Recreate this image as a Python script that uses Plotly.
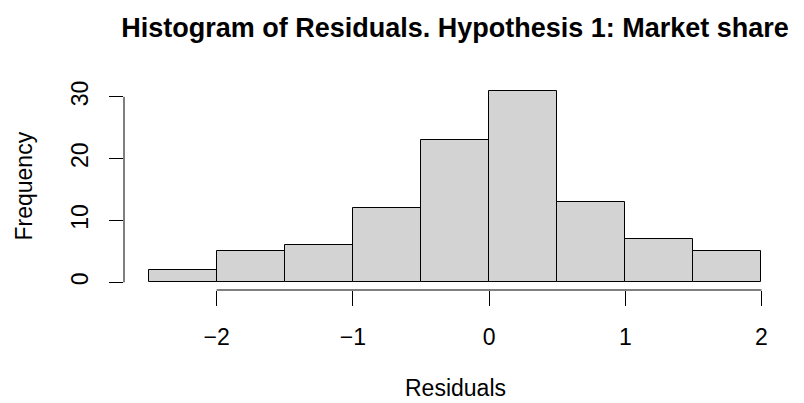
import plotly.graph_objects as go

# Data
bin_left = [-2.5, -2.0, -1.5, -1.0, -0.5, 0.0, 0.5, 1.0, 1.5]
bin_width = 0.5
counts = [2, 5, 6, 12, 23, 31, 13, 7, 5]
x_ticks = [-2, -1, 0, 1, 2]
y_ticks = [0, 10, 20, 30]

title_text = "Histogram of Residuals. Hypothesis 1: Market share"
x_label = "Residuals"
y_label = "Frequency"

FONT = "Liberation Sans, Arial, Helvetica, sans-serif"
BASE = 23
TITLE = 27

centers = [b + bin_width / 2 for b in bin_left]

fig = go.Figure()
fig.add_trace(go.Bar(
    x=centers, y=counts, width=[bin_width] * len(counts),
    marker=dict(color="#D3D3D3", line=dict(color="black", width=1)),
    showlegend=False, hoverinfo="x+y",
))

# R-style axes spanning only the tick range
x_rng = (min(bin_left), max(bin_left) + bin_width)
x_pad = 0.04 * (x_rng[1] - x_rng[0])
y_top = max(counts)
y_pad = 0.04 * y_top

fig.add_shape(type="line", xref="x", yref="paper", x0=min(x_ticks), x1=max(x_ticks),
              y0=0, y1=0, line=dict(color="black", width=1))
fig.add_shape(type="line", xref="paper", yref="y", x0=0, x1=0,
              y0=min(y_ticks), y1=max(y_ticks), line=dict(color="black", width=1))

fig.update_layout(
    width=804, height=403,
    margin=dict(l=124, r=18, t=83, b=113),
    plot_bgcolor="white", paper_bgcolor="white",
    font=dict(family=FONT, size=BASE, color="black"),
    bargap=0,
    title=dict(text="<b>" + title_text + "</b>", x=0.5, xref="paper",
               y=1 - 28 / 403, yref="container", yanchor="middle", xanchor="center",
               font=dict(size=TITLE, family=FONT, color="black")),
    xaxis=dict(range=[x_rng[0] - x_pad, x_rng[1] + x_pad], tickvals=x_ticks,
               ticks="outside", ticklen=15, tickwidth=1, tickcolor="black",
               showline=False, showgrid=False, zeroline=False,
               tickfont=dict(size=BASE, family=FONT, color="black"), ticklabelstandoff=11),
    yaxis=dict(range=[-y_pad, y_top + y_pad], tickvals=y_ticks,
               ticks="outside", ticklen=14, tickwidth=1, tickcolor="black",
               showline=False, showgrid=False, zeroline=False, tickangle=-90,
               tickfont=dict(size=BASE, family=FONT, color="black"), ticklabelstandoff=12),
    annotations=[
        dict(text=x_label, xref="paper", yref="paper", x=0.5, y=0, yshift=-112,
             showarrow=False, xanchor="center", yanchor="bottom", borderpad=0,
             font=dict(size=BASE, family=FONT, color="black")),
        dict(text=y_label, xref="paper", yref="paper", x=0, y=0.5, xshift=-101,
             showarrow=False, xanchor="center", yanchor="middle", textangle=-90,
             font=dict(size=BASE, family=FONT, color="black")),
    ],
)

fig.write_html("out.html")
